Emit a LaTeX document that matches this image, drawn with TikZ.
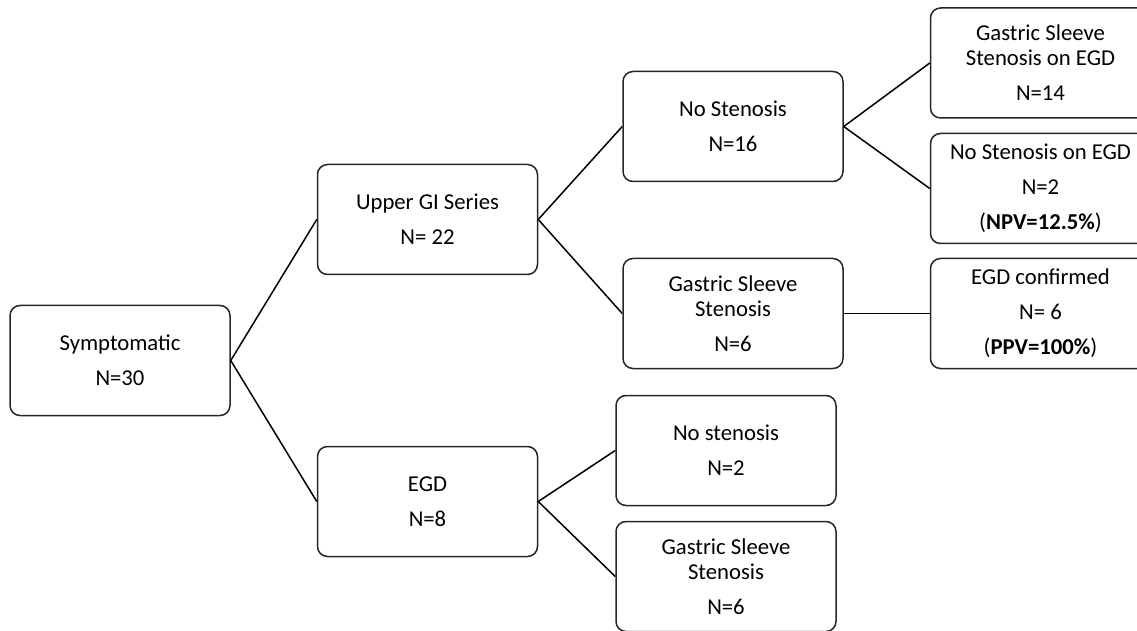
\documentclass[tikz,border=0pt]{standalone}
\usepackage{fontspec}
\setmainfont{Carlito}
\usetikzlibrary{positioning}

\begin{document}
\begin{tikzpicture}[node distance=43pt,
        box/.style={draw=black!85, line width=0.75pt, rounded corners=5pt, minimum width=110pt, minimum height=55pt, align=center, font=\fontsize{11.35}{12.5}\selectfont}]
        \useasboundingbox (0,0) rectangle (568.5pt,-315.5pt);
        \clip (0,0) rectangle (568.5pt,-315.5pt);
        \node [box] (Sym) at (60pt,-180.25pt) {Symptomatic\\[5pt]N=30};
        \node [box, right=of Sym, yshift=70.5pt] (UGI) {Upper GI Series\\[5pt]N= 22};
        \node [box, right=of Sym, yshift=-70.5pt] (EGD) {EGD\\[5pt]N=8};
        
        \node [box, right=42pt of UGI, yshift=46.5pt] (NS) {No Stenosis\\[5pt]N=16};
        \node [box, right=42pt of UGI, yshift=-47pt] (GSS) {Gastric Sleeve\\Stenosis\\[5pt]N=6};
        \node [box, right=38.5pt of EGD, yshift=25.5pt] (ENS) {No stenosis\\[5pt]N=2};
        \node [box, right=38.5pt of EGD, yshift=-37.5pt] (EGSS) {Gastric Sleeve\\Stenosis\\[5pt]N=6};
        
        \node [box, right=of NS, yshift=31.75pt] (GSE) {Gastric Sleeve\\Stenosis on EGD\\[5pt]N=14};
        \node [box, right=of NS, yshift=-31pt] (NSE) {No Stenosis on EGD\\[5pt]N=2\\[5pt](\textbf{NPV=12.5\%})};
        \node [box, right=of GSS] (EC) {EGD confirmed\\[5pt]N= 6\\[5pt](\textbf{PPV=100\%})};
        
        \draw [line width=0.75pt] (Sym.east) -- (UGI.west);
        \draw [line width=0.75pt] (Sym.east) -- (EGD.west);
        \draw [line width=0.75pt] (UGI.east) -- (NS.west);
        \draw [line width=0.75pt] (UGI.east) -- (GSS.west);
        \draw [line width=0.75pt] (EGD.east) -- (ENS.west);
        \draw [line width=0.75pt] (EGD.east) -- (EGSS.west);
        \draw [line width=0.75pt] (NS.east) -- (GSE.west);
        \draw [line width=0.75pt] (NS.east) -- (NSE.west);
        \draw [line width=0.75pt] (GSS.east) -- (EC.west);
    \end{tikzpicture}
\end{document}
